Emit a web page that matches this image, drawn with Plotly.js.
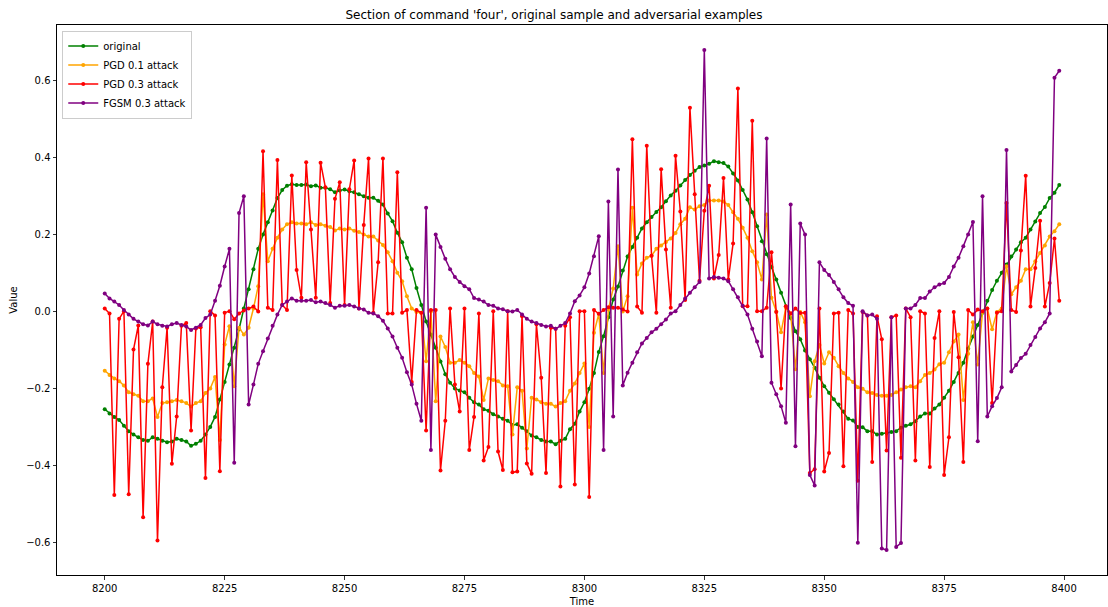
<!DOCTYPE html>
<html>
<head>
<meta charset="utf-8">
<script src="https://cdn.plot.ly/plotly-3.0.1.min.js"></script>
<style>
html,body{margin:0;padding:0;background:#fff;}
#chart{width:1108px;height:607px;}
</style>
</head>
<body>
<div id="chart"></div>
<script>
const startTime = 8200;
const time = Array.from({length: 200}, (_, i) => startTime + i);

const original = [
-0.254,-0.265,-0.274,-0.282,-0.297,-0.311,-0.32,-0.327,-0.334,-0.336,
-0.327,-0.331,-0.336,-0.34,-0.338,-0.331,-0.334,-0.338,-0.349,-0.344,
-0.336,-0.32,-0.30,-0.274,-0.229,-0.183,-0.138,-0.094,-0.046,0.008,
0.058,0.11,0.163,0.2,0.232,0.263,0.295,0.316,0.327,0.331,
0.329,0.329,0.33,0.326,0.328,0.322,0.322,0.318,0.31,0.315,
0.317,0.313,0.31,0.305,0.30,0.296,0.296,0.288,0.278,0.255,
0.235,0.205,0.18,0.14,0.11,0.061,0.017,-0.026,-0.06,-0.094,
-0.13,-0.163,-0.185,-0.2,-0.205,-0.21,-0.224,-0.236,-0.242,-0.254,
-0.258,-0.267,-0.273,-0.279,-0.284,-0.295,-0.293,-0.302,-0.311,-0.322,
-0.327,-0.334,-0.338,-0.338,-0.345,-0.336,-0.331,-0.306,-0.292,-0.26,
-0.236,-0.201,-0.16,-0.105,-0.064,-0.015,0.031,0.065,0.107,0.143,
0.168,0.192,0.216,0.232,0.246,0.259,0.271,0.287,0.302,0.314,
0.328,0.342,0.355,0.366,0.376,0.38,0.384,0.391,0.388,0.386,
0.377,0.359,0.341,0.316,0.291,0.258,0.222,0.183,0.149,0.116,
0.083,0.049,0.013,-0.017,-0.051,-0.072,-0.101,-0.124,-0.146,-0.172,
-0.194,-0.211,-0.228,-0.242,-0.26,-0.279,-0.283,-0.3,-0.301,-0.311,
-0.311,-0.32,-0.318,-0.316,-0.313,-0.311,-0.302,-0.297,-0.293,-0.285,
-0.273,-0.265,-0.265,-0.252,-0.242,-0.224,-0.206,-0.183,-0.16,-0.133,
-0.096,-0.065,-0.035,-0.003,0.028,0.056,0.08,0.101,0.122,0.143,
0.161,0.18,0.192,0.213,0.234,0.256,0.272,0.295,0.309,0.329
];

const pgd01 = [
-0.154,-0.165,-0.174,-0.181,-0.192,-0.21,-0.215,-0.219,-0.233,-0.233,
-0.226,-0.274,-0.238,-0.236,-0.233,-0.23,-0.233,-0.238,-0.247,-0.238,
-0.233,-0.212,-0.2,-0.17,-0.334,-0.086,-0.038,-0.194,-0.042,-0.06,
-0.042,0.008,0.066,0.305,0.131,0.163,0.192,0.213,0.227,0.232,
0.229,0.229,0.227,0.232,0.225,0.227,0.223,0.22,0.211,0.216,
0.213,0.216,0.21,0.207,0.2,0.195,0.195,0.185,0.173,0.154,
0.131,0.101,0.079,0.04,0.008,-0.001,-0.003,-0.129,0.0,-0.233,
-0.065,-0.092,-0.133,-0.133,-0.126,-0.133,-0.142,-0.16,-0.169,-0.23,
-0.174,-0.178,-0.181,-0.192,-0.194,-0.32,-0.197,-0.206,-0.356,-0.224,
-0.229,-0.236,-0.24,-0.24,-0.247,-0.238,-0.233,-0.206,-0.187,-0.16,
-0.135,-0.3,-0.055,-0.006,-0.16,0.005,0.06,0.17,0.0,0.04,
0.27,0.096,0.125,0.14,0.145,0.163,0.172,0.181,0.19,0.204,
0.227,0.241,0.271,0.265,0.274,0.277,0.289,0.289,0.289,0.286,
0.277,0.258,0.241,0.218,0.192,0.157,0.128,0.083,0.252,0.036,
0.0,-0.054,0.01,-0.005,-0.15,-0.001,-0.028,-0.22,-0.129,-0.087,
-0.135,-0.106,-0.12,-0.142,-0.16,-0.174,-0.183,-0.197,-0.201,-0.21,
-0.212,-0.217,-0.219,-0.219,-0.217,-0.21,-0.203,-0.197,-0.194,-0.197,
-0.181,-0.165,-0.16,-0.151,-0.137,-0.133,-0.106,-0.078,-0.06,-0.23,
-0.11,-0.028,-0.138,-0.001,0.008,-0.046,-0.001,0.008,0.118,0.045,
0.063,0.08,0.11,0.11,0.131,0.152,0.172,0.195,0.209,0.227
];

const pgd03 = [
0.008,-0.005,-0.477,-0.019,0.001,-0.475,-0.099,-0.036,-0.535,-0.136,
-0.026,-0.595,-0.197,-0.042,-0.396,-0.273,-0.037,-0.03,-0.309,-0.044,
-0.041,-0.433,0.001,-0.01,-0.415,-0.003,0.001,-0.02,-0.005,0.003,
0.008,0.013,0.0,0.417,0.01,0.004,0.394,0.017,0.004,0.354,
0.108,0.036,0.388,0.213,0.036,0.387,0.323,0.022,0.293,0.336,
0.017,0.318,0.393,0.008,0.225,0.398,-0.003,0.128,0.398,-0.005,
-0.005,0.362,-0.003,0.004,-0.183,0.004,-0.003,-0.309,0.004,0.004,
-0.413,-0.284,0.008,-0.19,-0.26,0.008,-0.36,-0.274,-0.005,-0.387,
-0.352,0.001,-0.364,-0.412,0.001,-0.418,-0.416,-0.012,-0.395,-0.422,
-0.033,-0.172,-0.42,-0.042,-0.045,-0.455,-0.037,-0.015,-0.45,0.001,
0.001,-0.482,0.004,-0.006,0.004,0.011,0.01,0.01,0.005,0.0,
0.448,0.013,-0.003,0.431,0.145,-0.003,0.37,0.161,0.01,0.405,
0.26,0.03,0.53,0.305,0.08,0.262,0.327,0.086,0.147,0.347,
0.083,0.177,0.58,0.014,0.014,0.496,0.001,0.001,0.01,0.154,
-0.001,-0.2,0.014,-0.005,0.008,-0.004,-0.003,-0.42,-0.41,0.008,
-0.416,-0.368,-0.005,-0.003,-0.402,0.004,-0.005,-0.44,-0.001,-0.01,
-0.391,-0.012,-0.072,-0.361,-0.015,-0.01,-0.38,0.008,-0.015,-0.387,
0.001,-0.005,-0.404,-0.069,0.001,-0.425,-0.327,-0.001,-0.119,-0.391,
0.004,-0.008,0.005,0.001,0.008,-0.238,-0.003,0.001,0.282,0.004,
-0.001,0.159,0.353,0.013,0.113,0.236,0.013,0.074,0.19,0.028
];

const fgsm03 = [
0.047,0.034,0.026,0.017,0.004,-0.008,-0.019,-0.026,-0.033,-0.036,
-0.026,-0.033,-0.037,-0.039,-0.033,-0.03,-0.035,-0.039,-0.048,-0.042,
-0.035,-0.017,-0.008,0.028,0.067,0.117,0.163,-0.393,0.256,0.30,
-0.242,-0.19,-0.136,-0.103,-0.07,-0.037,-0.008,0.017,0.026,0.034,
0.028,0.028,0.028,0.03,0.024,0.026,0.022,0.017,0.01,0.015,
0.015,0.017,0.013,0.008,0.005,-0.003,-0.005,-0.012,-0.024,-0.044,
-0.065,-0.094,-0.12,-0.158,-0.19,-0.24,-0.284,0.27,-0.36,0.2,
0.168,0.137,0.11,0.09,0.077,0.066,0.058,0.035,0.031,0.026,
0.017,0.015,0.008,0.006,0.001,0.0,0.004,-0.008,-0.019,-0.026,
-0.03,-0.035,-0.039,-0.037,-0.045,-0.037,-0.03,-0.005,0.027,0.042,
0.063,0.099,0.144,0.196,-0.36,0.286,-0.273,0.369,-0.192,-0.159,
-0.133,-0.106,-0.083,-0.069,-0.054,-0.045,-0.033,-0.021,-0.005,0.001,
0.017,0.034,0.049,0.063,0.077,0.68,0.086,0.09,0.088,0.086,
0.079,0.058,0.037,0.015,-0.008,-0.045,-0.078,-0.116,0.45,-0.185,
-0.215,-0.246,-0.289,0.278,-0.35,0.229,0.2,-0.425,-0.452,0.128,
0.108,0.095,0.077,0.058,0.037,0.022,0.015,-0.601,0.001,-0.01,
-0.008,-0.019,-0.616,-0.62,-0.015,-0.612,-0.602,0.008,0.008,0.017,
0.035,0.035,0.052,0.063,0.07,0.074,0.09,0.117,0.14,0.17,
0.2,0.233,-0.337,0.3,-0.273,-0.246,-0.225,-0.197,0.42,-0.156,
-0.139,-0.121,-0.11,-0.087,-0.066,-0.044,-0.028,-0.005,0.608,0.626
];

const seriesNames = ['original', 'PGD 0.1 attack', 'PGD 0.3 attack', 'FGSM 0.3 attack'];
const seriesColors = ['#008000', '#ffa500', '#ff0000', '#800080'];
const seriesValues = [original, pgd01, pgd03, fgsm03];

const xTicks = [8200, 8225, 8250, 8275, 8300, 8325, 8350, 8375, 8400];
const yTicks = [-0.6, -0.4, -0.2, 0.0, 0.2, 0.4, 0.6];

const traces = seriesValues.map((vals, i) => ({
  x: time,
  y: vals,
  type: 'scatter',
  mode: 'lines+markers',
  name: seriesNames[i],
  line: {color: seriesColors[i], width: 1.5},
  marker: {color: seriesColors[i], size: 4}
}));

const layout = {
  width: 1108,
  height: 607,
  margin: {l: 57, r: 1, t: 25, b: 32, pad: 0},
  paper_bgcolor: '#ffffff',
  plot_bgcolor: '#ffffff',
  font: {family: 'DejaVu Sans, sans-serif', size: 10, color: '#000'},
  title: {
    text: "Section of command 'four', original sample and adversarial examples",
    font: {size: 12, color: '#000'},
    x: 0.5, xanchor: 'center', y: 0.975, yanchor: 'middle'
  },
  xaxis: {
    range: [8190.05, 8408.95],
    tickvals: xTicks,
    ticks: 'outside', ticklen: 3.5, tickwidth: 0.8, tickcolor: '#000',
    showline: true, linecolor: '#000', linewidth: 1, mirror: true,
    showgrid: false, zeroline: false,
    tickfont: {size: 10},
    title: {text: 'Time', font: {size: 10}, standoff: 5}
  },
  yaxis: {
    range: [-0.685, 0.745],
    tickvals: yTicks,
    tickformat: '.1f',
    ticks: 'outside', ticklen: 3.5, tickwidth: 0.8, tickcolor: '#000',
    showline: true, linecolor: '#000', linewidth: 1, mirror: true,
    showgrid: false, zeroline: false,
    tickfont: {size: 10},
    title: {text: 'Value', font: {size: 10}, standoff: 6}
  },
  showlegend: true,
  legend: {
    x: 0.005, y: 0.99, xanchor: 'left', yanchor: 'top',
    bgcolor: 'rgba(255,255,255,0.8)', bordercolor: '#cccccc', borderwidth: 1,
    font: {size: 10}, tracegroupgap: 0, itemwidth: 30
  }
};

Plotly.newPlot('chart', traces, layout, {displayModeBar: false, staticPlot: true});
</script>
</body>
</html>
